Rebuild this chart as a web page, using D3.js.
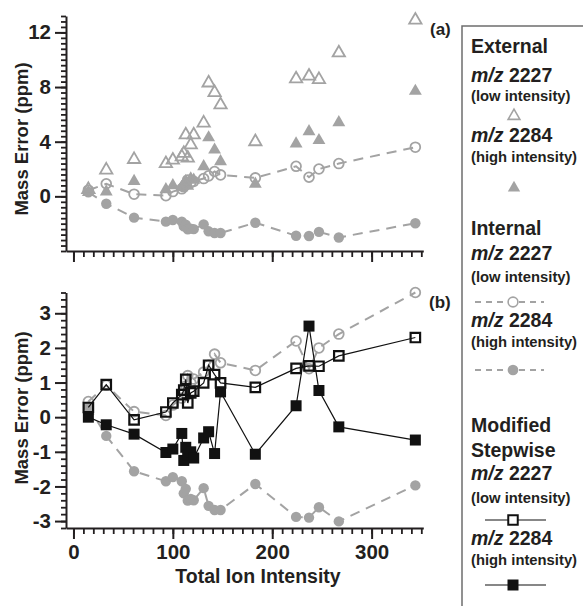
<!DOCTYPE html>
<html>
<head>
<meta charset="utf-8">
<script src="https://cdn.jsdelivr.net/npm/d3@7"></script>
<style>
  body { margin: 0; background: #fff; }
  text { font-family: "Liberation Sans", Arial, sans-serif; font-weight: bold; fill: #231f20; }
</style>
</head>
<body>
<div id="chart"></div>
<script>
// total ion intensity of each spectrum (shared by every series)
var intensity = [15, 33, 61, 93, 100, 109, 111, 113, 115, 118, 121, 131, 136, 142, 148, 183, 224, 237, 247, 267, 344];

// mass error (ppm) per calibration
var ext2227 = [0.50, 1.93, 2.70, 2.40, 2.65, 2.90, 3.15, 4.50, 2.80, 3.77, 4.50, 5.37, 8.30, 7.60, 6.70, 4.00, 8.60, 8.80, 8.55, 10.50, 12.90];
var ext2284 = [0.30, 0.34, 1.10, 0.50, 0.80, 0.65, 0.90, 1.10, 0.75, 1.30, 1.20, 2.18, 4.30, 3.40, 2.55, 0.90, 3.85, 4.75, 4.10, 5.40, 7.70];
var int2227 = [0.45, 0.92, 0.16, 0.05, 0.35, 0.55, 0.70, 0.90, 1.20, 1.00, 1.10, 1.30, 1.50, 1.82, 1.57, 1.35, 2.20, 1.40, 2.00, 2.40, 3.60];
var int2284 = [0.30, -0.54, -1.56, -1.85, -1.73, -1.85, -2.20, -2.07, -2.41, -2.36, -2.40, -2.05, -2.56, -2.68, -2.68, -1.93, -2.88, -2.90, -2.60, -3.01, -1.97];
var mod2227 = [0.28, 0.94, -0.08, 0.15, 0.41, 0.65, 0.78, 1.09, 0.41, 0.70, 0.75, 0.99, 1.50, 1.23, 0.99, 0.86, 1.41, 1.48, 1.47, 1.77, 2.30];
var mod2284 = [0.00, -0.22, -0.49, -1.02, -0.92, -0.47, -1.25, -0.87, -1.10, -1.00, -1.18, -0.60, -0.42, -1.05, 0.73, -1.07, 0.33, 2.63, 0.77, -0.28, -0.66];

// tick labels
var xTicks = [0, 100, 200, 300];
var yTicksA = [0, 4, 8, 12];
var yTicksB = [-3, -2, -1, 0, 1, 2, 3];

var gray = "#a3a3a3", ink = "#231f20";

var svg = d3.select("#chart").append("svg")
  .attr("width", 583)
  .attr("height", 606);

var x = d3.scaleLinear().domain([-7.5, 352]).range([66, 423.3]);
var yA = d3.scaleLinear().domain([-4, 13.2]).range([251, 16]);
var yB = d3.scaleLinear().domain([-3.2, 3.6]).range([528, 292.5]);

function pts(ys) {
  return intensity.map(function (d, i) { return [d, ys[i]]; });
}

// plain hyphen for negatives, like the original
var fmt = function (d) { return String(d); };

function drawAxes(y, yTicks, yMinor, xLabels) {
  var yBase = y.range()[0];
  // minor y ticks
  svg.append("g")
    .attr("transform", "translate(66,0)")
    .call(d3.axisLeft(y).tickValues(yMinor).tickSize(5).tickSizeOuter(0).tickFormat(""))
    .call(function (g) { g.selectAll("line").attr("stroke", ink).attr("stroke-width", 1.8); g.select(".domain").attr("stroke", ink).attr("stroke-width", 2); });
  // major y ticks
  svg.append("g")
    .attr("transform", "translate(66,0)")
    .call(d3.axisLeft(y).tickValues(yTicks).tickSize(11).tickSizeOuter(0).tickPadding(4).tickFormat(fmt))
    .call(function (g) {
      g.select(".domain").remove();
      g.selectAll("line").attr("stroke", ink).attr("stroke-width", 2);
      g.selectAll("text").style("font-size", "20.5px").style("font-family", "Liberation Sans, Arial, sans-serif").style("font-weight", "bold").attr("fill", ink);
    });
  // minor x ticks
  svg.append("g")
    .attr("transform", "translate(0," + yBase + ")")
    .call(d3.axisBottom(x).tickValues(d3.range(0, 351, 10)).tickSize(6).tickSizeOuter(0).tickFormat(""))
    .call(function (g) { g.selectAll("line").attr("stroke", ink).attr("stroke-width", 1.8); g.select(".domain").attr("stroke", ink).attr("stroke-width", 2); });
  // major x ticks
  svg.append("g")
    .attr("transform", "translate(0," + yBase + ")")
    .call(d3.axisBottom(x).tickValues(xTicks).tickSize(11).tickSizeOuter(0).tickPadding(5).tickFormat(xLabels ? fmt : ""))
    .call(function (g) {
      g.select(".domain").remove();
      g.selectAll("line").attr("stroke", ink).attr("stroke-width", 2);
      g.selectAll("text").style("font-size", "20.5px").style("font-family", "Liberation Sans, Arial, sans-serif").style("font-weight", "bold").attr("fill", ink);
    });
}

drawAxes(yA, yTicksA, d3.range(-40, 133, 4).map(function (d) { return d / 10; }), false);
drawAxes(yB, yTicksB, d3.range(-16, 19, 1).map(function (d) { return d / 5; }), true);

// axis titles
svg.append("text").attr("transform", "translate(28,139) rotate(-90)")
  .attr("text-anchor", "middle").style("font-size", "18.5px").text("Mass Error (ppm)");
svg.append("text").attr("transform", "translate(28,408) rotate(-90)")
  .attr("text-anchor", "middle").style("font-size", "18.5px").text("Mass Error (ppm)");
svg.append("text").attr("x", 258).attr("y", 583)
  .attr("text-anchor", "middle").style("font-size", "19.5px").text("Total Ion Intensity");

svg.append("text").attr("x", 430).attr("y", 35).style("font-size", "17px").text("(a)");
svg.append("text").attr("x", 429).attr("y", 308).style("font-size", "17px").text("(b)");

function line(y) {
  return d3.line().x(function (d) { return x(d[0]); }).y(function (d) { return y(d[1]); });
}

function markers(y, data, type, size, fill, stroke, sw) {
  svg.append("g").selectAll("path")
    .data(data)
    .enter()
    .append("path")
    .attr("transform", function (d) { return "translate(" + x(d[0]) + "," + y(d[1]) + ")"; })
    .attr("d", d3.symbol().type(type).size(size))
    .attr("fill", fill)
    .attr("stroke", stroke)
    .attr("stroke-width", sw);
}

// panel (a)
svg.append("path").datum(pts(int2227)).attr("d", line(yA))
  .attr("fill", "none").attr("stroke", gray).attr("stroke-width", 2).attr("stroke-dasharray", "10,7");
svg.append("path").datum(pts(int2284)).attr("d", line(yA))
  .attr("fill", "none").attr("stroke", gray).attr("stroke-width", 2).attr("stroke-dasharray", "10,7");
markers(yA, pts(ext2284), d3.symbolTriangle, 72, gray, "none", 0);
markers(yA, pts(int2284), d3.symbolCircle, 85, gray, "none", 0);
markers(yA, pts(int2227), d3.symbolCircle, 75, "none", gray, 1.8);
markers(yA, pts(ext2227), d3.symbolTriangle, 66, "none", gray, 1.8);

// panel (b)
svg.append("path").datum(pts(int2227)).attr("d", line(yB))
  .attr("fill", "none").attr("stroke", gray).attr("stroke-width", 2).attr("stroke-dasharray", "10,7");
svg.append("path").datum(pts(int2284)).attr("d", line(yB))
  .attr("fill", "none").attr("stroke", gray).attr("stroke-width", 2).attr("stroke-dasharray", "10,7");
markers(yB, pts(int2284), d3.symbolCircle, 85, gray, "none", 0);
markers(yB, pts(int2227), d3.symbolCircle, 75, "none", gray, 1.8);
svg.append("path").datum(pts(mod2227)).attr("d", line(yB))
  .attr("fill", "none").attr("stroke", "#111").attr("stroke-width", 1.2);
svg.append("path").datum(pts(mod2284)).attr("d", line(yB))
  .attr("fill", "none").attr("stroke", "#111").attr("stroke-width", 1.2);
markers(yB, pts(mod2284), d3.symbolSquare, 121, "#111", "none", 0);
markers(yB, pts(mod2227), d3.symbolSquare, 90, "none", "#111", 2.2);

// legend
var lg = svg.append("g");
lg.append("path").attr("d", "M583,26H462V606")
  .attr("fill", "none").attr("stroke", "#6d6d6d").attr("stroke-width", 1.5);

var lx = 471;
function head(y, t) {
  lg.append("text").attr("x", lx).attr("y", y).style("font-size", "19.5px").text(t);
}
function mz(y, t) {
  var tx = lg.append("text").attr("x", lx).attr("y", y).style("font-size", "19.5px");
  tx.append("tspan").style("font-style", "italic").text("m/z");
  tx.append("tspan").text(" " + t);
}
function sub(y, t) {
  lg.append("text").attr("x", lx).attr("y", y).style("font-size", "14.8px").text(t);
}
function sym(cx, cy, type, size, fill, stroke, sw) {
  lg.append("path").attr("transform", "translate(" + cx + "," + cy + ")")
    .attr("d", d3.symbol().type(type).size(size))
    .attr("fill", fill).attr("stroke", stroke).attr("stroke-width", sw);
}
function seg(y, x1, x2, stroke, sw, dash) {
  lg.append("line").attr("x1", x1).attr("x2", x2).attr("y1", y).attr("y2", y)
    .attr("stroke", stroke).attr("stroke-width", sw).attr("stroke-dasharray", dash);
}

head(53, "External");
mz(82, "2227");
sub(101, "(low intensity)");
sym(514, 116, d3.symbolTriangle, 60, "none", gray, 1.6);
mz(142, "2284");
sub(162, "(high intensity)");
sym(514, 188, d3.symbolTriangle, 66, gray, "none", 0);

head(235, "Internal");
mz(260, "2227");
sub(282, "(low intensity)");
seg(302, 475, 544, gray, 2, "6,5");
sym(513, 302, d3.symbolCircle, 75, "#fff", gray, 1.6);
mz(327, "2284");
sub(347, "(high intensity)");
seg(370, 475, 544, gray, 2, "6,5");
sym(513, 370, d3.symbolCircle, 90, gray, "none", 0);

head(432, "Modified");
head(457, "Stepwise");
mz(480, "2227");
sub(503, "(low intensity)");
seg(520, 485, 546, "#111", 1.2, null);
sym(513, 520, d3.symbolSquare, 90, "#fff", "#111", 2);
mz(545, "2284");
sub(565, "(high intensity)");
seg(585, 485, 546, "#111", 1.2, null);
sym(513, 585, d3.symbolSquare, 121, "#111", "none", 0);
</script>
</body>
</html>
